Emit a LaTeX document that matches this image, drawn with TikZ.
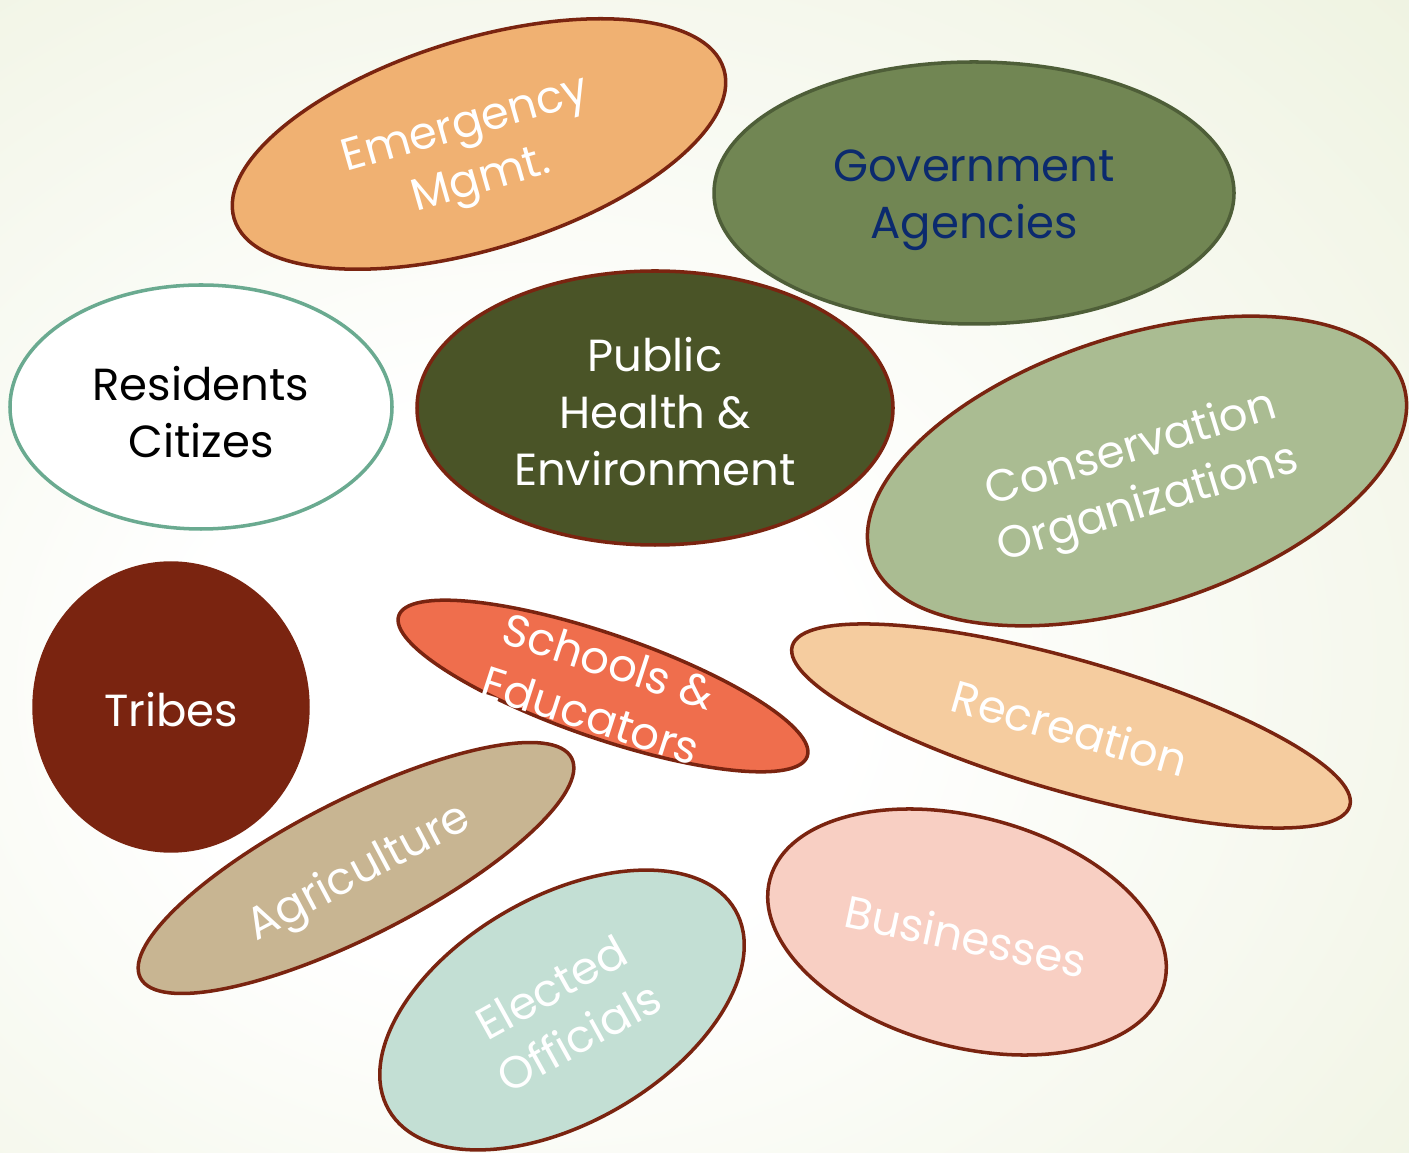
\documentclass[tikz,border=0pt]{standalone}
\usepackage{fontspec}
\setmainfont{Poppins}
\usepackage{xcolor}
\usepackage{tikz}
\usetikzlibrary{calc}

\definecolor{bggreen}{HTML}{E3EACB}
\definecolor{rimred}{HTML}{7A2410}
\definecolor{emfill}{HTML}{F0B172}
\definecolor{govfill}{HTML}{718653}
\definecolor{govrim}{HTML}{4E5E38}
\definecolor{govtext}{HTML}{0B2A6E}
\definecolor{resrim}{HTML}{6AAA90}
\definecolor{phfill}{HTML}{4A5427}
\definecolor{consfill}{HTML}{AABC92}
\definecolor{schfill}{HTML}{EF6E4D}
\definecolor{recfill}{HTML}{F5CC9F}
\definecolor{agrfill}{HTML}{C8B592}
\definecolor{elefill}{HTML}{C3DFD4}
\definecolor{busfill}{HTML}{F8CFC3}

\pgfdeclareradialshading{bgshade}{\pgfpoint{-8bp}{-6bp}}{%
  color(0bp)=(white); color(12bp)=(white); color(62bp)=(bggreen); color(80bp)=(bggreen)}

\tikzset{
  blob/.style={draw=rimred, line width=1pt},
  tag/.style={align=center, text=white, inner sep=0pt,
    font=\fontsize{12.8}{16.2}\selectfont}
}

\begin{document}
\begin{tikzpicture}
	% Background
	\shade[shading=bgshade] (0,0) rectangle (14.09,-11.53);
	\useasboundingbox (0,0) rectangle (14.09,-11.53);
	% Emergency Mgmt.
	\draw[blob, fill=emfill, rotate around={17:(4.79,-1.44)}] (4.79,-1.44) ellipse (2.56 and 1.05);
	\node[tag, rotate=16] (emergency) at (4.74,-1.55) {Emergency\\Mgmt.};
	% Government Agencies
	\draw[blob, draw=govrim, fill=govfill] (9.74,-1.93) ellipse (2.60 and 1.31);
	\node[tag, text=govtext] (government) at (9.74,-2.00) {Government\\Agencies};
	% Residents Citizes
	\draw[blob, draw=resrim, fill=white] (2.01,-4.07) ellipse (1.91 and 1.22);
	\node[tag, text=black] (residents) at (2.01,-4.12) {Residents\\Citizes};
	% Public Health & Environment
	\draw[blob, fill=phfill] (6.55,-4.08) ellipse (2.38 and 1.37);
	\node[tag] (health) at (6.55,-4.12) {Public\\Health \&\\Environment};
	% Conservation Organizations
	\draw[blob, fill=consfill, rotate around={18:(11.37,-4.71)}] (11.37,-4.71) ellipse (2.80 and 1.35);
	\node[tag, rotate=17] (conservation) at (11.40,-4.78) {Conservation\\Organizations};
	% Tribes
	\draw[draw=rimred, fill=rimred] (1.71,-7.07) ellipse (1.38 and 1.45);
	\node[tag] (tribes) at (1.71,-7.10) {Tribes};
	% Schools & Educators
	\draw[blob, fill=schfill, rotate around={-19:(6.03,-6.86)}] (6.03,-6.86) ellipse (2.16 and 0.52);
	\node[tag, rotate=-18] (schools) at (6.00,-6.88) {Schools \&\\Educators};
	% Recreation
	\draw[blob, fill=recfill, rotate around={-16:(10.71,-7.26)}] (10.71,-7.26) ellipse (2.90 and 0.66);
	\node[tag, rotate=-16] (recreation) at (10.70,-7.28) {Recreation};
	% Agriculture
	\draw[blob, fill=agrfill, rotate around={27:(3.56,-8.68)}] (3.56,-8.68) ellipse (2.42 and 0.68);
	\node[tag, rotate=28] (agriculture) at (3.60,-8.74) {Agriculture};
	% Elected Officials
	\draw[blob, fill=elefill, rotate around={30:(5.62,-10.10)}] (5.62,-10.10) ellipse (2.00 and 1.13);
	\node[tag, rotate=29] (elected) at (5.65,-10.12) {Elected\\Officials};
	% Businesses
	\draw[blob, fill=busfill, rotate around={-15:(9.67,-9.32)}] (9.67,-9.32) ellipse (2.04 and 1.15);
	\node[tag, rotate=-12] (businesses) at (9.66,-9.36) {Businesses};
\end{tikzpicture}
\end{document}
